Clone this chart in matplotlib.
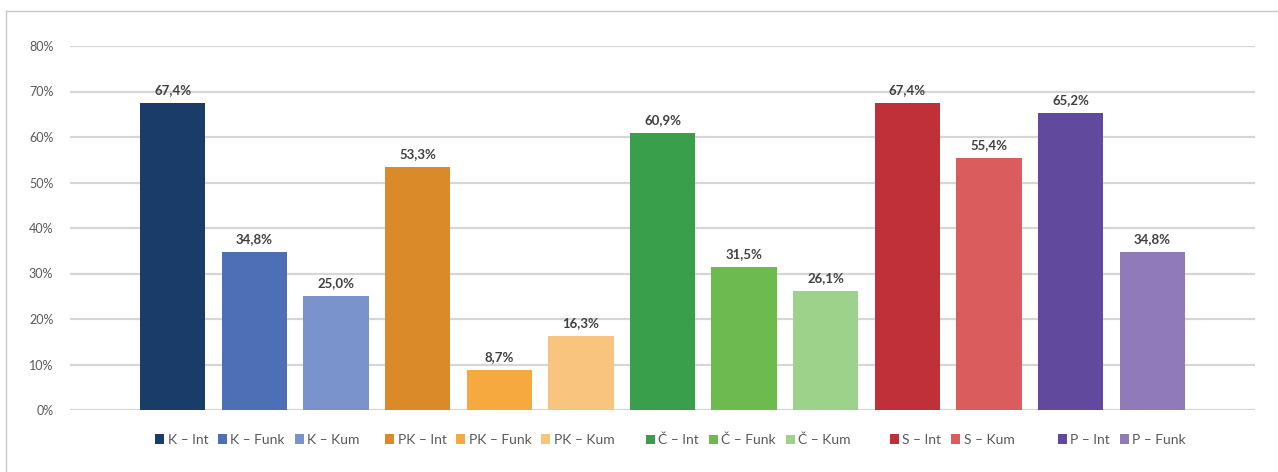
import matplotlib
matplotlib.use("Agg")
import matplotlib.pyplot as plt
from matplotlib.patches import Patch
from matplotlib.lines import Line2D

plt.rcParams['font.family'] = ['Lato', 'DejaVu Sans']

# Series (one bar per series) and their values in percent
labels = ["K – Int", "K – Funk", "K – Kum",
          "PK – Int", "PK – Funk", "PK – Kum",
          "Č – Int", "Č – Funk", "Č – Kum",
          "S – Int", "S – Kum",
          "P – Int", "P – Funk"]
values = [67.4, 34.8, 25.0,
          53.3, 8.7, 16.3,
          60.9, 31.5, 26.1,
          67.4, 55.4,
          65.2, 34.8]
colors = ["#1a3c69", "#4d6fb6", "#7b93cc",
          "#db8a2a", "#f5a93f", "#f8c57e",
          "#3a9f4a", "#6dba4f", "#9dd28a",
          "#c03038", "#db5c5c",
          "#614a9d", "#917ab9"]
groups = [[0, 1, 2], [3, 4, 5], [6, 7, 8], [9, 10], [11, 12]]
yticks = [0, 10, 20, 30, 40, 50, 60, 70, 80]

W, H = 1278, 472
fig = plt.figure(figsize=(W / 100, H / 100), dpi=100)
fig.patch.set_facecolor("white")

# Chart frame (left and top edges visible)
frame_col = "#c8c8c8"
fig.add_artist(Line2D([6 / W, 6 / W], [0, 1 - 11 / H], color=frame_col, lw=1.0,
                      transform=fig.transFigure))
fig.add_artist(Line2D([6 / W, 1277 / W], [1 - 11 / H, 1 - 11 / H], color=frame_col,
                      lw=1.0, transform=fig.transFigure))

ax = fig.add_axes([70 / W, 1 - 410 / H, (1255 - 70) / W, (410 - 46) / H])
x = list(range(len(values)))
ax.bar(x, values, width=0.8, color=colors, zorder=3)

ax.set_xlim(-1.258, len(values) - 1 + 1.258)
ax.set_ylim(0, 80)
ax.set_yticks(yticks)
ax.set_yticklabels([f"{t}%" for t in yticks], fontsize=9, color="#595959")
ax.tick_params(axis="y", length=0, pad=12)
ax.set_xticks([])
ax.yaxis.grid(True, color="#d6d6d6", lw=1.6, zorder=0)
for s in ax.spines.values():
    s.set_visible(False)
ax.set_facecolor("white")

for xi, v in zip(x, values):
    ax.annotate(f"{v:.1f}%".replace(".", ","), (xi, v), xytext=(0, 5),
                textcoords="offset points", ha="center", va="bottom",
                fontsize=9.5, fontweight="bold", color="#404040")

# Legend: one block per group
legend_x = [155, 385, 646, 890, 1058]
for gx, idx in zip(legend_x, groups):
    handles = [Patch(facecolor=colors[i], edgecolor="none") for i in idx]
    leg = fig.legend(handles, [labels[i] for i in idx], loc="center left",
                     bbox_to_anchor=(gx / W, 1 - 440 / H), ncol=len(idx),
                     frameon=False, fontsize=10, handlelength=0.65,
                     handleheight=0.65, handletextpad=0.25, columnspacing=0.7,
                     borderpad=0, borderaxespad=0)
    for t in leg.get_texts():
        t.set_color("#595959")

fig.savefig("out.png", dpi=100, facecolor="white")
